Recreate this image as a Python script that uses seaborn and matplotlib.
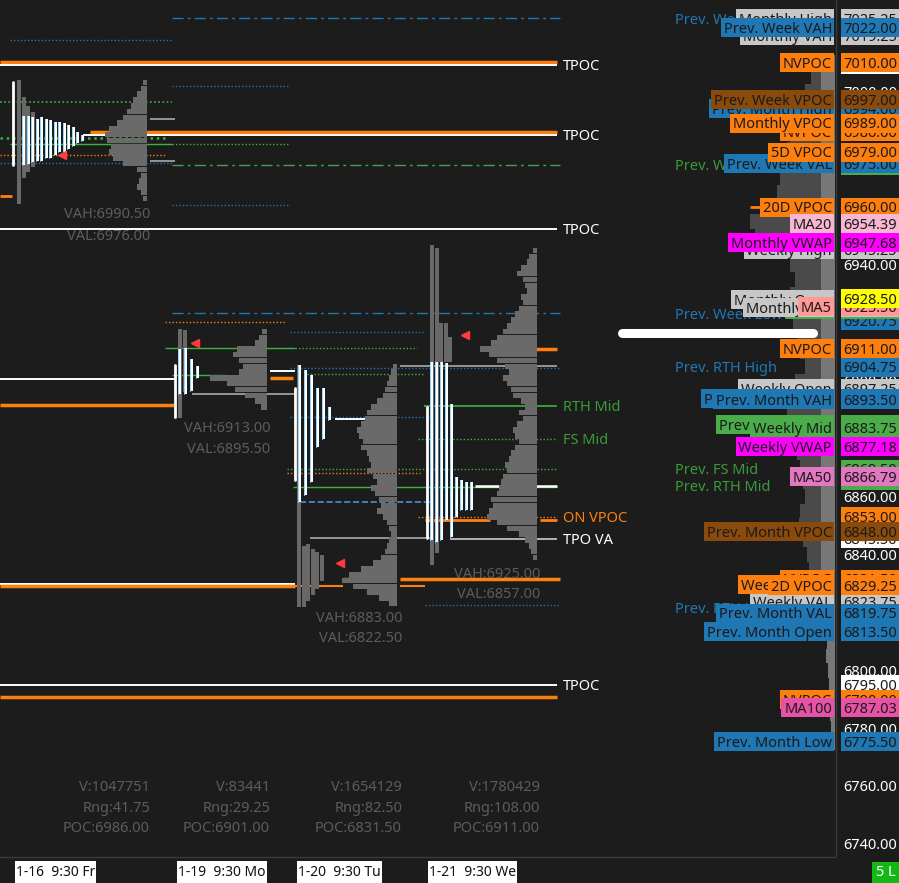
import numpy as np
import matplotlib
matplotlib.use("Agg")
import matplotlib.pyplot as plt
from matplotlib.patches import Rectangle
import seaborn as sns

# ---------------- data ----------------
session_names = ["1-16  9:30 Fr", "1-19  9:30 Mo", "1-20  9:30 Tu", "1-21  9:30 We"]
session_volume = [1047751, 83441, 1654129, 1780429]
session_range = [41.75, 29.25, 82.50, 108.00]
session_poc = [6986.00, 6901.00, 6831.50, 6911.00]
session_vah = [6990.50, 6913.00, 6883.00, 6925.00]
session_val = [6976.00, 6895.50, 6822.50, 6857.00]

# volume profiles per session: top price, 2-point bins going down
vol_top = [7003, 6917, 6905, 6945]
fri_vol = [4, 6, 10, 14, 16, 20, 24, 30, 38, 42, 40, 36, 38, 34, 24, 10, 6, 8, 10, 6, 4]
mon_vol = [5, 8, 12, 30, 34, 28, 24, 28, 57, 40, 32, 22, 12, 6]
tue_vol = [4, 6, 8, 10, 12, 14, 20, 26, 30, 32, 36, 40, 38, 34, 36, 30, 28, 26, 30,
           24, 20, 26, 22, 18, 16, 20, 14, 10, 8, 6, 8, 10, 12, 16,
           24, 36, 48, 55, 44, 30, 18, 8]
wed_vol = [4, 8, 10, 16, 20, 14, 12, 10, 16, 14, 18, 22, 26, 30, 34, 40, 46,
           57, 48, 40, 32, 28, 34, 30, 26, 24, 16, 12, 18, 14, 20, 24, 22, 18, 22,
           26, 28, 32, 30, 34, 36, 38, 40, 46, 44, 48, 50, 40, 30, 18, 12, 8, 6, 4]

# TPO columns (high, low) per session
fri_tpo = [(6991.5, 6974.5), (6991.5, 6975), (6991, 6975.5), (6990.5, 6976), (6991, 6976),
           (6990.5, 6977), (6990, 6977), (6989.5, 6978), (6989.5, 6979), (6989, 6979),
           (6988.5, 6980), (6987.5, 6981), (6986, 6982), (6985, 6983)]
mon_tpo = [(6911, 6895.5), (6911.5, 6895.5), (6907.5, 6896.5), (6905, 6901)]
tue_tpo = [(6905.5, 6858), (6903.75, 6860.5), (6902, 6865), (6897.5, 6877), (6897.5, 6880), (6891, 6886.5)]
wed_tpo = [(6906.5, 6845), (6906.5, 6844.25), (6906.5, 6845), (6906, 6852), (6892, 6846),
           (6866.75, 6853), (6865.75, 6855.5), (6865, 6855.5), (6865, 6855.5)]
# overnight (grey) columns
fri_eth = [(7004, 6961), (6998, 6970), (6995, 6972), (6993, 6974)]
mon_eth = [(6918, 6887), (6917.5, 6896)]
tue_eth = [(6905.5, 6822), (6843, 6822), (6843.5, 6824), (6842, 6826), (6841, 6828), (6840, 6831)]
wed_eth = [(6947, 6836.5), (6946, 6840.5), (6920, 6906.5), (6920, 6906.5), (6915, 6906.5)]
# initial balance ranges
ib_range = [(7003.25, 6974.5), (6905.5, 6887.5), (6897.5, 6865.75), (6891, 6845.75)]
single_print = [6978.0, 6913.0, 6837.0, 6915.75]

# composite profile on the right, 5-point bins from 7010 down
comp_top = 7010
comp_vol = [8, 24, 30, 38, 42, 45, 48, 50, 55, 58, 70, 85, 80, 75, 45, 40, 45, 48, 42, 38,
            35, 30, 40, 45, 48, 44, 40, 38, 35, 32, 30, 35, 36, 32, 28, 26, 28, 20, 12, 10,
            8, 9, 7, 6, 6, 5, 4, 2]

price_ticks = [7000, 6980, 6960, 6940, 6920, 6900, 6880, 6860, 6840, 6820, 6800, 6780, 6760, 6740]

# ---------------- style ----------------
sns.set_theme(style="dark")
plt.rcParams["font.family"] = ["Noto Sans", "DejaVu Sans"]
tab = sns.color_palette("tab20")
BG = "#1c1c1c"
BLUE = tab[0]
ORANGE = tab[2]
GREEN = "#4aad4a"
TGREEN = "#3a9a3a"
BROWN = "#8a4a0c"
GRAY = tab[15]
PINK_L = tab[13]
SALMON = tab[7]
PINK = tab[12]
PINK_D = "#e752a6"
MAGENTA = "#ff00ff"
YELLOW = "#ffff00"
WHITE = "#ffffff"
LINE_G = "#3cb43c"
LINE_GR = "#aaaaaa"
DIM = "#5c5c5c"
HIST = "#6a6a6a"
FS = 10.5

PX = 2.895                       # pixels per price point
P_TOP = 6740 + 844 / PX
P_BOT = 6740 - 39 / PX
TY = -1.8 / PX                   # small downward nudge for text


def py(ypx):
    return P_TOP - ypx / PX


DOT = (0, (1, 1.5))
DASHDOT = (0, (8, 3, 2, 3))

# level lines: price, x0, x1, colour, style, width
level_lines = [
    (7025.25, 172, 560, BLUE, DASHDOT, 1.0), (7017.75, 10, 172, BLUE, DOT, 1.0),
    (7010.0, 0, 557, ORANGE, "-", 2.5), (7009.25, 0, 557, WHITE, "-", 1.4),
    (7001.75, 172, 290, BLUE, DOT, 1.0), (6996.25, 0, 172, LINE_G, DOT, 1.2),
    (6990.5, 150, 175, LINE_GR, "-", 1.2), (6986.0, 90, 557, ORANGE, "-", 2.5),
    (6985.0, 83, 557, WHITE, "-", 1.4), (6984.0, 0, 165, LINE_G, DOT, 1.8),
    (6981.75, 10, 172, LINE_G, "-", 1.0), (6981.75, 172, 290, LINE_G, DOT, 1.0),
    (6978.0, 0, 165, ORANGE, DOT, 1.0), (6976.0, 150, 175, LINE_GR, "-", 1.2),
    (6975.25, 0, 172, BLUE, DOT, 1.0), (6974.5, 172, 560, "#4aa04a", DASHDOT, 1.0),
    (6963.75, 0, 12, ORANGE, "-", 2.0), (6960.75, 172, 290, BLUE, DOT, 1.0),
    (6960.0, 750, 765, ORANGE, "-", 2.0), (6952.5, 0, 557, WHITE, "-", 1.4),
    (6923.5, 172, 560, BLUE, DASHDOT, 1.0), (6920.25, 165, 285, ORANGE, DOT, 1.0),
    (6917.0, 290, 425, BLUE, DOT, 1.0), (6911.25, 165, 295, LINE_G, "-", 1.0),
    (6911.25, 295, 417, LINE_G, DOT, 1.0), (6911.0, 480, 557, ORANGE, "-", 2.5),
    (6905.0, 400, 557, LINE_GR, "-", 1.2), (6904.5, 290, 560, BLUE, DOT, 1.0),
    (6902.25, 307, 423, LINE_G, DOT, 1.0), (6902.0, 172, 225, LINE_G, "-", 1.0),
    (6903.25, 270, 295, WHITE, "-", 1.4), (6900.5, 0, 175, WHITE, "-", 1.4),
    (6901.0, 210, 262, ORANGE, "-", 2.5), (6901.0, 270, 293, ORANGE, "-", 2.5),
    (6895.5, 192, 295, LINE_GR, "-", 1.2), (6891.75, 0, 175, ORANGE, "-", 2.5),
    (6891.25, 424, 557, LINE_G, "-", 1.2), (6887.5, 290, 430, BLUE, DOT, 1.0),
    (6886.75, 335, 380, WHITE, "-", 1.4), (6880.0, 418, 557, LINE_G, DOT, 1.0),
    (6869.5, 287, 557, LINE_G, DOT, 1.0), (6868.0, 287, 420, ORANGE, DOT, 1.0),
    (6863.25, 293, 557, LINE_G, "-", 1.0), (6863.5, 475, 557, WHITE, "-", 1.8),
    (6858.25, 300, 430, "#4a90d0", "--", 1.2), (6853.0, 418, 557, ORANGE, DOT, 1.0),
    (6852.0, 425, 490, ORANGE, "-", 2.0), (6852.0, 540, 557, ORANGE, "-", 2.0),
    (6845.75, 310, 430, LINE_GR, "-", 1.2), (6845.5, 450, 557, "#cccccc", "-", 1.2),
    (6831.5, 343, 362, ORANGE, "-", 2.5), (6831.5, 400, 560, ORANGE, "-", 2.5),
    (6829.75, 0, 295, WHITE, "-", 1.4), (6829.0, 0, 295, ORANGE, "-", 2.5),
    (6829.0, 295, 343, ORANGE, "-", 1.5), (6829.0, 400, 425, ORANGE, "-", 1.5),
    (6822.5, 425, 560, BLUE, DOT, 1.0),
    (6795.0, 0, 557, WHITE, "-", 1.4), (6790.75, 0, 557, ORANGE, "-", 2.5),
]
line_labels = [("TPOC", 7009.25, WHITE), ("TPOC", 6985.0, WHITE), ("TPOC", 6952.5, WHITE),
               ("RTH Mid", 6891.25, TGREEN), ("FS Mid", 6880.0, TGREEN),
               ("ON VPOC", 6853.0, ORANGE), ("TPO VA", 6845.5, WHITE), ("TPOC", 6795.0, WHITE)]

text_levels = [("Prev. Week High", 7025.25, BLUE), ("Prev. Week Mid", 6974.5, TGREEN),
               ("Prev. Week Low", 6923.25, BLUE), ("Prev. RTH High", 6904.75, BLUE),
               ("Prev. FS Mid", 6869.5, TGREEN), ("Prev. RTH Mid", 6863.75, TGREEN),
               ("Prev. RTH Low", 6821.75, BLUE)]

right_labels = [
    ("Monthly High", 7025.25, GRAY), ("Monthly VAH", 7019.25, GRAY), ("Prev. Week VAH", 7022.00, BLUE),
    ("", 7009.25, WHITE), ("NVPOC", 7010.00, ORANGE),
    ("Prev. Month High", 6994.00, BLUE), ("NVPOC", 6986.00, ORANGE),
    ("Prev. Week VPOC", 6997.00, BROWN), ("Monthly VPOC", 6989.00, ORANGE),
    ("", 6974.25, GREEN), ("Prev. Week VAL", 6975.00, BLUE), ("5D VPOC", 6979.00, ORANGE),
    ("20D VPOC", 6960.00, ORANGE), ("MA20", 6954.39, PINK_L),
    ("Weekly High", 6945.25, GRAY), ("Monthly VWAP", 6947.68, MAGENTA),
    ("", 6920.75, BLUE), ("IB Mid", 6924.50, GREEN), ("Monthly Open", 6928.00, GRAY),
    ("Monthly Mid", 6925.25, GRAY), ("MA5", 6925.50, SALMON),
    ("NVPOC", 6911.00, ORANGE), ("", 6904.75, BLUE), ("Weekly Open", 6897.25, GRAY),
    ("Prev. Month VWAP", 6893.75, BLUE), ("Prev. Month VAH", 6893.50, BLUE),
    ("Prev. Month Mid", 6884.75, GREEN), ("Weekly Mid", 6883.75, GREEN),
    ("Weekly VWAP", 6877.18, MAGENTA),
    ("", 6869.50, GREEN), ("", 6865.50, GREEN), ("MA50", 6866.79, PINK),
    ("", 6853.00, ORANGE), ("", 6845.50, WHITE), ("Prev. Month VPOC", 6848.00, BROWN),
    ("NVPOC", 6831.50, ORANGE), ("Weekly VAL", 6823.75, GRAY),
    ("Weekly VPOC", 6829.50, ORANGE), ("2D VPOC", 6829.25, ORANGE),
    ("Prev. Month VAL", 6819.75, BLUE), ("Prev. Month Open", 6813.50, BLUE),
    ("", 6795.00, WHITE), ("NVPOC", 6790.00, ORANGE), ("MA100", 6787.03, PINK_D),
    ("Prev. Month Low", 6775.50, BLUE), ("", 6928.50, YELLOW),
]

# layout per session (pixel columns)
eth_x = [17, 178, 297, 430]
tpo_x = [22, 178, 298, 430]
tpo_step = [4.5, 6.0, 6.0, 5.0]
ib_x = [13, 175, 295, 427]
hist_right = [147, 267, 397, 537]
text_right = [150, 270, 402, 540]
va_text_y = [(215, 237), (428, 449), (618, 638), (575, 595)]
tri_x = [62, 195, 340, 465]
label_x = [15, 177, 297, 428]

vols = [fri_vol, mon_vol, tue_vol, wed_vol]
tpos = [fri_tpo, mon_tpo, tue_tpo, wed_tpo]
eths = [fri_eth, mon_eth, tue_eth, wed_eth]

# ---------------- figure ----------------
fig = plt.figure(figsize=(8.99, 8.83), dpi=100, facecolor=BG)
ax = fig.add_axes([0, 0, 1, 1])
ax.set_facecolor(BG)
ax.set_xlim(0, 899)
ax.set_ylim(P_BOT, P_TOP)
ax.axis("off")
renderer = fig.canvas.get_renderer()

for p, x0, x1, c, ls, lw in level_lines:
    ax.plot([x0, x1], [p, p], color=c, ls=ls, lw=lw, zorder=2, solid_capstyle="butt")
for name, p, c in line_labels:
    ax.text(563, p + TY, name, color=c, fontsize=FS, va="center", ha="left", zorder=6)

# current price marker line
ax.plot([622, 813], [6916.5, 6916.5], color=WHITE, lw=6.5, solid_capstyle="round", zorder=7)

# session profiles
for i in range(4):
    v = np.array(vols[i])
    prices = vol_top[i] - 2 * np.arange(len(v))
    ax.barh(prices, -v, left=hist_right[i], height=1.9, color=HIST, lw=0, zorder=3)
    for k, (hi, lo) in enumerate(eths[i]):
        ax.add_patch(Rectangle((eth_x[i] + k * 4.5, lo), 4, hi - lo, color="#686868", lw=0, zorder=3.5))
    for k, (hi, lo) in enumerate(tpos[i]):
        x = tpo_x[i] + k * tpo_step[i]
        ax.add_patch(Rectangle((x, lo), 3.4, hi - lo, color=WHITE, lw=0, zorder=4))
        ax.plot([x, x], [lo, hi], color="#8fd8ff", lw=0.7, zorder=4.2)
    hi, lo = ib_range[i]
    ax.plot([ib_x[i], ib_x[i]], [lo, hi], color=WHITE, lw=2, zorder=4)
    ax.plot(tri_x[i], single_print[i], marker="<", color="#ff3b3b", ms=6, zorder=5)
    ax.text(text_right[i], py(va_text_y[i][0]), f"VAH:{session_vah[i]:.2f}", color=DIM,
            fontsize=FS, ha="right", va="center", zorder=6)
    ax.text(text_right[i], py(va_text_y[i][1]), f"VAL:{session_val[i]:.2f}", color=DIM,
            fontsize=FS, ha="right", va="center", zorder=6)
    for j, s in enumerate([f"V:{session_volume[i]}", f"Rng:{session_range[i]:.2f}",
                           f"POC:{session_poc[i]:.2f}"]):
        ax.text(text_right[i], py(787 + 21 * j), s, color=DIM, fontsize=FS,
                ha="right", va="center", zorder=6)

# composite profile at right
cv = np.array(comp_vol)
cp = comp_top - 5 * np.arange(len(cv))
ax.barh(cp, -cv, left=835, height=5, color="#4a4a4a", lw=0, zorder=3)
ax.barh(cp, -np.minimum(cv, 14), left=835, height=5, color="#777777", lw=0, zorder=3.1)

# text-only level names
for name, p, c in text_levels:
    ax.text(675, p + TY, name, color=c, fontsize=FS, va="center", ha="left", zorder=8)

# price axis
ax.plot([835.5, 835.5], [py(857), P_TOP], color="#3a3a3a", lw=1, zorder=9)
for t in price_ticks:
    ax.text(843, t + TY, f"{t:.2f}", color=WHITE, fontsize=FS, va="center", ha="left", zorder=9)

# right side level boxes
h = 19 / PX
for i, (name, p, col) in enumerate(right_labels):
    z = 20 + 3 * i
    tc = "#1a1a1a"
    ax.add_patch(Rectangle((841, p - h / 2), 58, h, color=col, lw=0, zorder=z))
    ax.text(843, p + TY, f"{p:.2f}", color=tc, fontsize=FS, va="center", ha="left", zorder=z + 1)
    if name:
        t = ax.text(832, p + TY, name, color=tc, fontsize=FS, va="center", ha="right", zorder=z + 1)
        bb = t.get_window_extent(renderer)
        ax.add_patch(Rectangle((bb.x0 - 3, p - h / 2), 834 - bb.x0 + 3, h, color=col, lw=0, zorder=z))

# time axis band
ax.add_patch(Rectangle((0, P_BOT), 899, py(857) - P_BOT, color=BG, lw=0, zorder=200))
ax.plot([0, 835], [py(857), py(857)], color="#3a3a3a", lw=1, zorder=201)
for i, name in enumerate(session_names):
    t = ax.text(label_x[i] + 1, py(873), name, color="#111111", fontsize=10, va="center",
                ha="left", zorder=203)
    bb = t.get_window_extent(renderer)
    ax.add_patch(Rectangle((label_x[i], py(883)), bb.x1 - label_x[i] + 1, 22 / PX,
                           color=WHITE, lw=0, zorder=202))
ax.add_patch(Rectangle((872, py(883)), 27, 21 / PX, color="#14b814", lw=0, zorder=202))
ax.text(876, py(873), "5 L", color=WHITE, fontsize=FS, va="center", ha="left", zorder=203)

fig.savefig("out.png", dpi=100, facecolor=BG)
